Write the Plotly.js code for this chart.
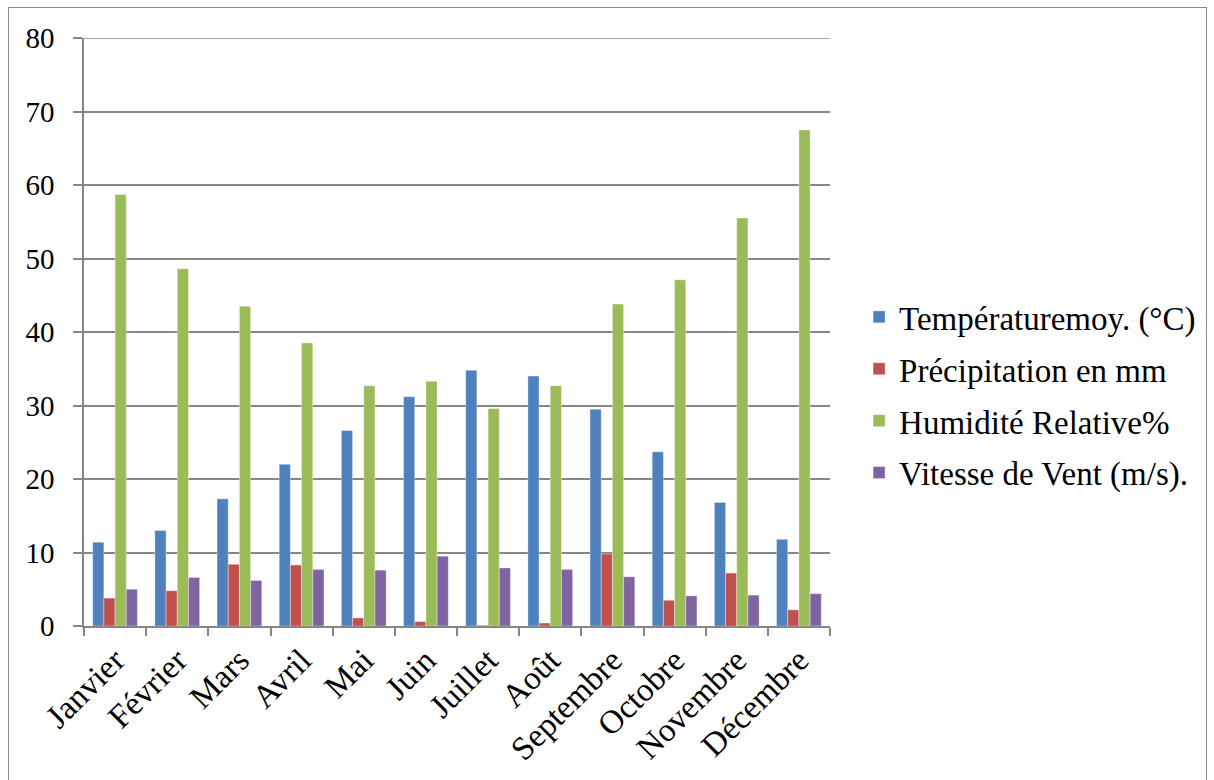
<!DOCTYPE html>
<html><head><meta charset="utf-8">
<script src="https://cdn.plot.ly/plotly-3.0.1.min.js"></script>
<style>
body{margin:0;padding:0;background:#fff;}
#chart{width:1214px;height:780px;}
#frame{position:absolute;left:8px;top:7px;width:1197px;height:800px;border:1.5px solid #8c8c8c;pointer-events:none;}
</style></head>
<body>
<div id="chart"></div>
<div id="frame"></div>
<script>
const months = ["Janvier","Février","Mars","Avril","Mai","Juin","Juillet","Août","Septembre","Octobre","Novembre","Décembre"];
const temperature = [11.4,13.0,17.3,22.0,26.6,31.2,34.8,34.0,29.5,23.7,16.8,11.8];
const precipitation = [3.8,4.8,8.4,8.3,1.1,0.6,0.1,0.4,9.8,3.5,7.2,2.2];
const humidite = [58.7,48.6,43.5,38.5,32.7,33.3,29.6,32.7,43.8,47.1,55.5,67.5];
const vent = [5.0,6.6,6.2,7.7,7.6,9.5,7.9,7.7,6.7,4.1,4.2,4.4];
const names = ["Températuremoy. (°C)","Précipitation en mm","Humidité Relative%","Vitesse de Vent (m/s)."];
const colors = ["#4F81BD","#C0504D","#9BBB59","#8064A2"];
const series = [temperature, precipitation, humidite, vent];

const traces = series.map((s,i)=>({
  type:'bar', x:months, y:s, name:names[i], legendgroup:'g'+i,
  marker:{color:colors[i], line:{color:'rgba(255,255,255,0.6)', width:0.6}}
}));

const FONT = 'Liberation Serif, Times New Roman, serif';
const layout = {
  width:1214, height:780,
  margin:{l:84, r:384, t:38, b:154},
  paper_bgcolor:'#fff', plot_bgcolor:'#fff',
  barmode:'group', bargap:0.28, bargroupgap:0,
  font:{family:FONT, color:'#000', size:33},
  showlegend:true,
  legend:{x:1.039, y:0.393, xanchor:'left', yanchor:'middle', traceorder:'grouped', tracegroupgap:6,
    font:{size:33, family:FONT}},
  xaxis:{type:'category', tickangle:-45, showline:true, linecolor:'#868686', linewidth:1.5,
    ticks:'outside', tickson:'boundaries', ticklen:8, tickcolor:'#868686', tickwidth:1.5,
    tickfont:{size:33, family:FONT}, showgrid:false, zeroline:false},
  yaxis:{range:[0,80], dtick:10, showline:true, linecolor:'#868686', linewidth:1.5,
    ticks:'outside', ticklen:9, tickcolor:'#868686', tickwidth:1.5, ticklabelstandoff:13,
    showgrid:true, gridcolor:'#868686', gridwidth:1.5, zeroline:false, tickfont:{size:29, family:FONT}},
  shapes:[{type:'line', xref:'paper', yref:'y', x0:0, x1:1, y0:80, y1:80, line:{color:'#868686', width:1.5}}]
};
Plotly.newPlot('chart', traces, layout, {displayModeBar:false});
</script>
</body></html>
